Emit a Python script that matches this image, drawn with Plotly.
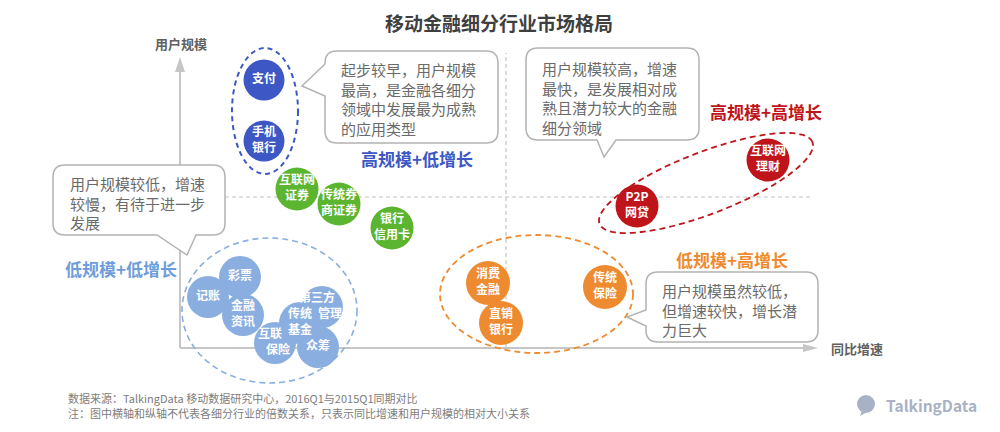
import numpy as np
import plotly.graph_objects as go

# ---------------- data ----------------
TITLE = "移动金融细分行业市场格局"
Y_TITLE = "用户规模"
X_TITLE = "同比增速"

# high scale + low growth
hl_labels = ["支付", "手机<br>银行"]
hl_growth = [84, 84]
hl_scale = [268, 207]

# green (between)
gr_labels = ["互联网<br>证券", "传统券<br>商证券", "银行<br>信用卡"]
gr_growth = [117, 159, 212]
gr_scale = [159, 144, 120]

# low scale + low growth
ll_labels = ["记账", "彩票", "金融<br>资讯", "互联<br>保险", "传统<br>基金", "第三方<br>管理", "众筹"]
ll_growth = [28, 60, 63, 95, 120, 142, 138]
ll_scale = [51, 71, 33, 5, 25, 41, 1]

# low scale + high growth
lh_labels = ["消费<br>金融", "直销<br>银行", "传统<br>保险"]
lh_growth = [308, 321, 425]
lh_scale = [65, 25, 61]

# high scale + high growth
hh_labels = ["P2P<br>网贷", "互联网<br>理财"]
hh_growth = [457, 588]
hh_scale = [142, 188]

group_names = ["高规模+低增长", "低规模+低增长", "高规模+高增长", "低规模+高增长"]

callout_texts = [
    ["起步较早，用户规模", "最高，是金融各细分", "领域中发展最为成熟", "的应用类型"],
    ["用户规模较高，增速", "最快，是发展相对成", "熟且潜力较大的金融", "细分领域"],
    ["用户规模较低，增速", "较慢，有待于进一步", "发展"],
    ["用户规模虽然较低，", "但增速较快，增长潜", "力巨大"],
]

footer = [
    "数据来源：TalkingData 移动数据研究中心，2016Q1与2015Q1同期对比",
    "注：图中横轴和纵轴不代表各细分行业的倍数关系，只表示同比增速和用户规模的相对大小关系",
]

# ---------------- style ----------------
FONT = "Noto Sans CJK SC"
BLUE = "#3d57c4"
GREEN = "#5cb531"
LBLUE = "#8aaee0"
LBLUE_TXT = "#6f9ddb"
ORANGE = "#ee8b30"
RED = "#c0141b"
AXIS = "#c6c6c6"
BORDER = "#b3b3b3"
TXT = "#6a6a6a"
LINE_GAP = 15.6
# per-line horizontal nudges for crowded labels (style only)
LINE_NUDGE = {"第三方<br>管理": [-5, 8], "互联<br>保险": [-5, 3]}

fig = go.Figure()


def bubbles(xs, ys, labels, color, size=43):
    fig.add_trace(go.Scatter(
        x=xs, y=ys, mode="markers",
        marker=dict(size=size, color=color, line=dict(width=0)),
        hoverinfo="skip", showlegend=False))
    tx, ty, tt = [], [], []
    for x, y, lab in zip(xs, ys, labels):
        lines = lab.split("<br>")
        n = len(lines)
        nudges = LINE_NUDGE.get(lab, [0] * n)
        for i, (ln, dx) in enumerate(zip(lines, nudges)):
            tx.append(x + dx)
            ty.append(y + ((n - 1) / 2 - i) * LINE_GAP)
            tt.append(f"<b>{ln}</b>")
    fig.add_trace(go.Scatter(
        x=tx, y=ty, mode="text", text=tt, textposition="middle center",
        textfont=dict(family=FONT, size=12, color="white"),
        hoverinfo="skip", showlegend=False))


bubbles(hl_growth, hl_scale, hl_labels, BLUE, 41)
bubbles(gr_growth, gr_scale, gr_labels, GREEN)
bubbles(ll_growth, ll_scale, ll_labels, LBLUE, 42)
bubbles(lh_growth, lh_scale, lh_labels, ORANGE, 44)
bubbles(hh_growth, hh_scale, hh_labels, RED, 43)

shapes = []
# grid dashed lines
shapes.append(dict(type="line", x0=3, x1=630, y0=151, y1=151,
                   line=dict(color="#c4c4c4", width=1.2, dash="4px,3px"), layer="below"))
shapes.append(dict(type="line", x0=326, x1=326, y0=0, y1=295,
                   line=dict(color="#c4c4c4", width=1.2, dash="4px,3px"), layer="below"))
# axes
shapes.append(dict(type="line", x0=0, x1=0, y0=0, y1=278, line=dict(color=AXIS, width=2), layer="below"))
shapes.append(dict(type="path", path="M -5,276 L 0,291 L 5,276 Z", fillcolor=AXIS,
                   line=dict(width=0), layer="below"))
shapes.append(dict(type="line", x0=0, x1=625, y0=0, y1=0, line=dict(color=AXIS, width=2), layer="below"))
shapes.append(dict(type="path", path="M 623,-4 L 638,0 L 623,4 Z", fillcolor=AXIS,
                   line=dict(width=0), layer="below"))

# group ellipses
shapes.append(dict(type="circle", x0=52, x1=118, y0=174, y1=300,
                   line=dict(color=BLUE, width=2, dash="5px,4px"), layer="below"))
shapes.append(dict(type="circle", x0=2, x1=177, y0=-35, y1=110,
                   line=dict(color=LBLUE, width=1.6, dash="6px,4px"), layer="below"))
shapes.append(dict(type="circle", x0=260, x1=453, y0=-5, y1=113,
                   line=dict(color=ORANGE, width=1.8, dash="6px,4px"), layer="below"))
t = np.linspace(0, 2 * np.pi, 120)
a, b, ang = 114, 31, np.deg2rad(21)
cx, cy = 526, 165
ex = cx + a * np.cos(t) * np.cos(ang) - b * np.sin(t) * np.sin(ang)
ey = cy + a * np.cos(t) * np.sin(ang) + b * np.sin(t) * np.cos(ang)
p = "M " + " L ".join(f"{x:.1f},{y:.1f}" for x, y in zip(ex, ey)) + " Z"
shapes.append(dict(type="path", path=p, line=dict(color=RED, width=1.8, dash="6px,4px"), layer="below"))


def callout(x0, x1, y0, y1, side, pa, pb, tip, r=12):
    s = f"M {x0+r},{y1} L {x1-r},{y1} Q {x1},{y1} {x1},{y1-r} L {x1},{y0+r} Q {x1},{y0} {x1-r},{y0} "
    if side == "bottom":
        s += f"L {pb},{y0} L {tip[0]},{tip[1]} L {pa},{y0} "
    s += f"L {x0+r},{y0} Q {x0},{y0} {x0},{y0+r} "
    if side == "left":
        s += f"L {x0},{pb} L {tip[0]},{tip[1]} L {x0},{pa} "
    s += f"L {x0},{y1-r} Q {x0},{y1} {x0+r},{y1} Z"
    return dict(type="path", path=s, fillcolor="white", line=dict(color=BORDER, width=1.5), layer="below")


shapes.append(callout(145, 318, 205, 297, "left", 284, 252, (122, 262)))
shapes.append(callout(346, 519, 208, 300, "bottom", 417, 436, (424, 191)))
shapes.append(callout(-127, 45, 113, 183, "bottom", -23, 16, (7, 93)))
shapes.append(callout(466, 638, 6, 76, "left", 38, 22, (447, 31)))

annotations = []


def txt(x, y, s, size, color, anchor="center", bold=False):
    annotations.append(dict(x=x, y=y, text=f"<b>{s}</b>" if bold else s, showarrow=False,
                            xanchor=anchor, yanchor="middle", align=anchor if anchor != "center" else "center",
                            font=dict(family=FONT, size=size, color=color)))


txt(319, 326, TITLE, 19, "#3f3f3f", bold=True)
txt(1, 305, Y_TITLE, 13, "#606060", bold=True)
txt(677, 0, X_TITLE, 13, "#606060", bold=True)

txt(237, 190, group_names[0], 17, BLUE, bold=True)
txt(-59, 80, group_names[1], 17, LBLUE_TXT, bold=True)
txt(586, 237, group_names[2], 17, RED, bold=True)
txt(552, 89, group_names[3], 17, ORANGE, bold=True)

callout_pos = [(159, 249), (360, 250), (-112, 145), (480, 38)]
for (x, y), lines in zip(callout_pos, callout_texts):
    txt(x, y, "<br>".join(lines), 15, TXT, anchor="left")

txt(-114, -50, footer[0], 11, "#7d7d7d", anchor="left")
txt(-114, -65, footer[1], 11, "#7d7d7d", anchor="left")

# logo
txt(751, -57, "TalkingData", 15.5, "#a9b2c4", bold=True)
fig.add_trace(go.Scatter(x=[686], y=[-56], mode="markers",
                         marker=dict(size=18, color="#a9b2c4", line=dict(width=0)),
                         hoverinfo="skip", showlegend=False))
shapes.append(dict(type="path", path="M 682,-62 L 680,-68 L 687,-64 Z", fillcolor="#a9b2c4",
                   line=dict(width=0)))

fig.update_layout(
    width=1000, height=432, margin=dict(l=0, r=0, t=0, b=0),
    paper_bgcolor="white", plot_bgcolor="white",
    xaxis=dict(range=[-180, 820], visible=False, fixedrange=True),
    yaxis=dict(range=[-84, 348], visible=False, fixedrange=True),
    shapes=shapes, annotations=annotations, showlegend=False,
    font=dict(family=FONT),
)

fig.write_html("out.html", config={"displayModeBar": False},
               post_script="document.body.style.margin='0';document.body.style.overflow='hidden';")
